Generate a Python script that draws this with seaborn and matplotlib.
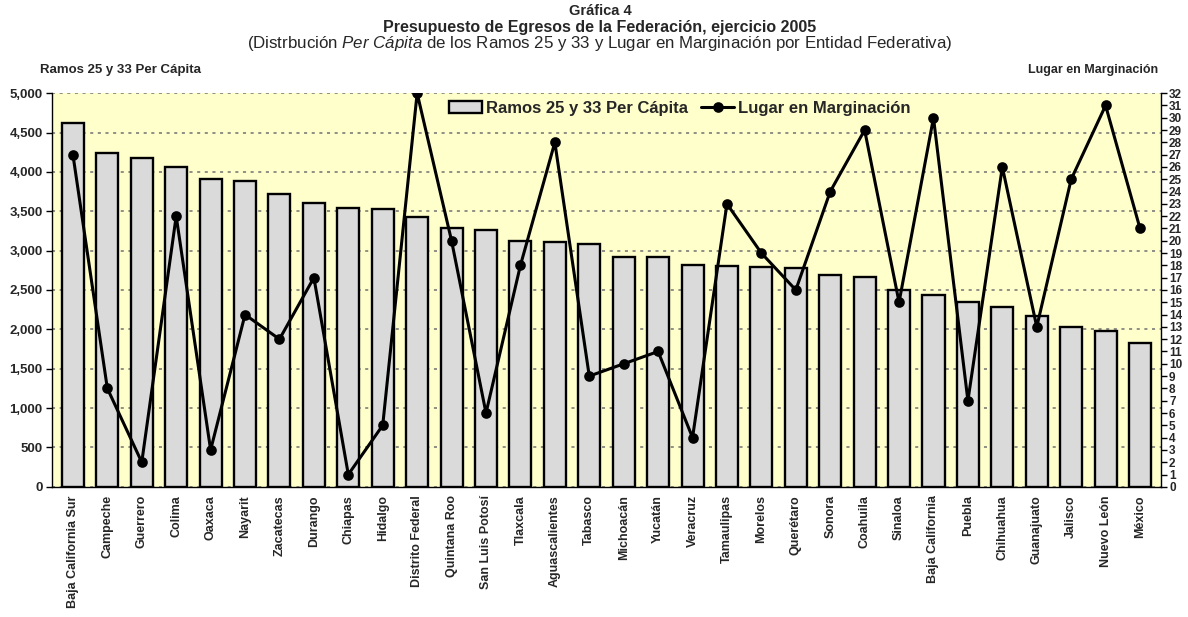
import matplotlib
matplotlib.use("Agg")
import matplotlib.pyplot as plt
import seaborn as sns
import pandas as pd
from matplotlib.ticker import FuncFormatter, MultipleLocator

sns.set_theme(style="white")
plt.rcParams['font.family'] = ['Liberation Sans', 'DejaVu Sans']
plt.rcParams['mathtext.fontset'] = 'custom'
plt.rcParams['mathtext.it'] = 'Liberation Sans:italic'
plt.rcParams['mathtext.rm'] = 'Liberation Sans'

# Datos
estados = ["Baja California Sur", "Campeche", "Guerrero", "Colima", "Oaxaca", "Nayarit",
           "Zacatecas", "Durango", "Chiapas", "Hidalgo", "Distrito Federal", "Quintana Roo",
           "San Luis Potosí", "Tlaxcala", "Aguascalientes", "Tabasco", "Michoacán", "Yucatán",
           "Veracruz", "Tamaulipas", "Morelos", "Querétaro", "Sonora", "Coahuila", "Sinaloa",
           "Baja California", "Puebla", "Chihuahua", "Guanajuato", "Jalisco", "Nuevo León", "México"]
per_capita = [4623, 4238, 4171, 4057, 3905, 3879, 3722, 3604, 3541, 3532, 3426, 3291,
              3261, 3122, 3105, 3084, 2923, 2923, 2821, 2805, 2788, 2775, 2686, 2665, 2500,
              2440, 2352, 2280, 2174, 2034, 1983, 1827]
lugar = [27, 8, 2, 22, 3, 14, 12, 17, 1, 5, 32, 20, 6, 18, 28, 9, 10, 11, 4, 23, 19, 16,
         24, 29, 15, 30, 7, 26, 13, 25, 31, 21]

df = pd.DataFrame({'estado': estados, 'per_capita': per_capita, 'lugar': lugar})

fig, ax = plt.subplots(figsize=(11.88, 6.17), dpi=100)
fig.subplots_adjust(left=0.044, right=0.977, top=0.849, bottom=0.211)
ax.set_facecolor('#FFFFCC')

sns.barplot(data=df, x='estado', y='per_capita', color='#DADADA', width=0.64,
            edgecolor='black', linewidth=1.7, saturation=1, ax=ax, zorder=2,
            label='Ramos 25 y 33 Per Cápita')
if ax.get_legend() is not None:
    ax.get_legend().remove()
ax.set_ylim(0, 5000)
ax.set_xlim(-0.6, len(estados) - 0.4)
ax.yaxis.set_major_locator(MultipleLocator(500))
ax.yaxis.set_major_formatter(FuncFormatter(lambda v, p: f"{int(v):,}"))
ax.grid(axis='y', linestyle=(0, (2, 3)), color='#707070', linewidth=1.1, zorder=1)
ax.set_axisbelow(True)
ax.set_xlabel('')
ax.set_ylabel('')
for s in ['top', 'right']:
    ax.spines[s].set_visible(False)
for s in ['left', 'bottom']:
    ax.spines[s].set_color('black')
    ax.spines[s].set_linewidth(1.0)
ax.tick_params(axis='y', which='both', left=True, length=4, width=1, color='black',
               labelsize=9.5, pad=3)
ax.tick_params(axis='x', bottom=False, length=0, pad=6)
for lab in ax.get_yticklabels():
    lab.set_fontweight('bold')
ax.set_xticks(range(len(estados)))
ax.set_xticklabels(estados, rotation=90, fontweight='bold', fontsize=9)

ax2 = ax.twinx()
sns.pointplot(data=df, x='estado', y='lugar', color='black', markers='o',
              markersize=6, linewidth=2.2, ax=ax2, label='Lugar en Marginación')
ax2.set_ylim(0, 32)
ax2.set_xlim(-0.6, len(estados) - 0.4)
ax2.yaxis.set_major_locator(MultipleLocator(1))
ax2.set_ylabel('')
ax2.set_xlabel('')
for s in ['top', 'left', 'bottom']:
    ax2.spines[s].set_visible(False)
ax2.spines['right'].set_color('black')
ax2.spines['right'].set_linewidth(1.0)
ax2.tick_params(axis='y', right=True, length=4, width=1, color='black', labelsize=8.5, pad=2)
for lab in ax2.get_yticklabels():
    lab.set_fontweight('bold')
ax2.grid(False)

# Leyenda
h1, l1 = ax.get_legend_handles_labels()
h2, l2 = ax2.get_legend_handles_labels()
leg = ax2.legend(h1 + h2, l1 + l2, loc='center', bbox_to_anchor=(0.566, 0.962),
                 ncol=2, frameon=True, fancybox=False, facecolor='#FFFFCC',
                 edgecolor='none', framealpha=1, borderpad=0.4,
                 prop={'weight': 'bold', 'size': 12},
                 handlelength=2.0, handletextpad=0.2, columnspacing=0.8)

# Títulos
cx = 0.505
fig.text(cx, 0.982, "Gráfica 4", ha='center', va='center', fontsize=10.5, fontweight='bold')
fig.text(cx, 0.956, "Presupuesto de Egresos de la Federación, ejercicio 2005",
         ha='center', va='center', fontsize=11.5, fontweight='bold')
fig.text(cx, 0.929, r"(Distrbución $\mathit{Per\ Cápita}$ de los Ramos 25 y 33 y Lugar en Marginación por Entidad Federativa)",
         ha='center', va='center', fontsize=12.2)
fig.text(0.034, 0.887, "Ramos 25 y 33 Per Cápita", ha='left', va='center',
         fontsize=9.5, fontweight='bold')
fig.text(0.975, 0.887, "Lugar en Marginación", ha='right', va='center',
         fontsize=9, fontweight='bold')

fig.savefig('out.png', dpi=100)
